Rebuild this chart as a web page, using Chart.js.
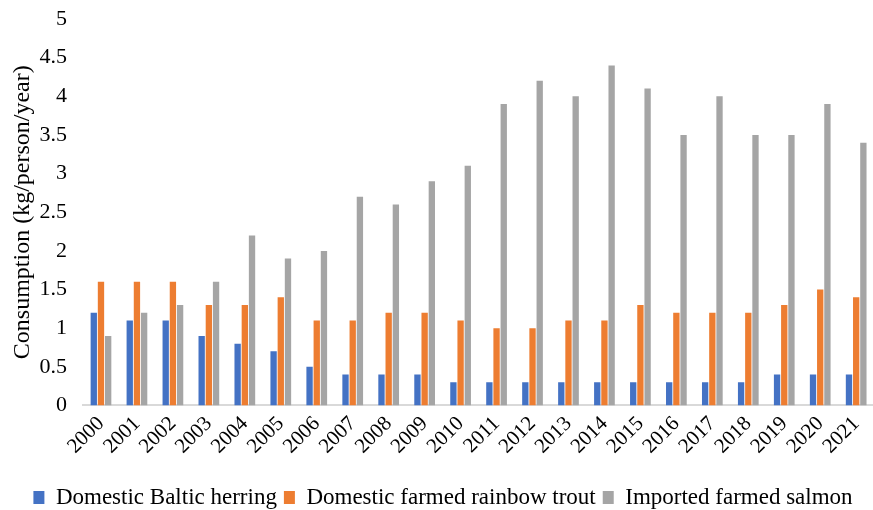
<!DOCTYPE html>
<html>
<head>
<meta charset="utf-8">
<script src="https://cdn.jsdelivr.net/npm/chart.js@4/dist/chart.umd.min.js"></script>
<style>
  html, body { margin: 0; padding: 0; background: #fff; overflow: hidden; }
  #wrap { width: 880px; height: 510px; }
</style>
</head>
<body>
<div id="wrap"><canvas id="fishChart"></canvas></div>
<script>
// Fish consumption per person, 2000-2021
const years = ['2000','2001','2002','2003','2004','2005','2006','2007','2008','2009','2010',
  '2011','2012','2013','2014','2015','2016','2017','2018','2019','2020','2021'];
const balticHerring = [1.2,1.1,1.1,0.9,0.8,0.7,0.5,0.4,0.4,0.4,0.3,0.3,0.3,0.3,0.3,0.3,0.3,0.3,0.3,0.4,0.4,0.4];
const rainbowTrout = [1.6,1.6,1.6,1.3,1.3,1.4,1.1,1.1,1.2,1.2,1.1,1.0,1.0,1.1,1.1,1.3,1.2,1.2,1.2,1.3,1.5,1.4];
const importedSalmon = [0.9,1.2,1.3,1.6,2.2,1.9,2.0,2.7,2.6,2.9,3.1,3.9,4.2,4.0,4.4,4.1,3.5,4.0,3.5,3.5,3.9,3.4];

const serif = "'Liberation Serif', 'Times New Roman', serif";
Chart.defaults.font.family = serif;
Chart.defaults.color = '#000';

new Chart(document.getElementById('fishChart').getContext('2d'), {
  type: 'bar',
  data: {
    labels: years,
    datasets: [
      { label: 'Domestic Baltic herring', data: balticHerring, backgroundColor: '#4472C4' },
      { label: 'Domestic farmed rainbow trout', data: rainbowTrout, backgroundColor: '#ED7D31' },
      { label: 'Imported farmed salmon', data: importedSalmon, backgroundColor: '#A5A5A5' }
    ]
  },
  options: {
    responsive: true,
    maintainAspectRatio: false,
    animation: false,
    datasets: { bar: { categoryPercentage: 0.6, barPercentage: 0.88 } },
    layout: { padding: { top: 19, left: 6, right: 0, bottom: -9 } },
    plugins: {
      tooltip: { enabled: false },
      legend: {
        position: 'bottom',
        labels: { boxWidth: 11, boxHeight: 13, padding: 7, font: { size: 23 } }
      }
    },
    scales: {
      x: {
        grid: { display: false, drawTicks: false },
        border: { color: '#d9d9d9', width: 2 },
        ticks: { autoSkip: false, maxRotation: 45, minRotation: 45, padding: 6, font: { size: 21 } },
        // let the rotated year labels hang past the left edge of the plot,
        // and leave a gap between them and the legend
        afterFit: scale => { scale.paddingLeft = 0; scale.height += 14; }
      },
      y: {
        min: 0, max: 5,
        grid: { display: false, drawTicks: false },
        border: { display: false },
        ticks: {
          stepSize: 0.5, padding: 16, font: { size: 22 },
          callback: v => String(v)
        },
        title: { display: true, text: 'Consumption (kg/person/year)', font: { size: 24 }, padding: { top: 2, bottom: 2 } },
        afterFit: scale => { scale.width = 77; scale.paddingTop = 0; scale.paddingBottom = 0; }
      }
    }
  }
});
</script>
</body>
</html>
